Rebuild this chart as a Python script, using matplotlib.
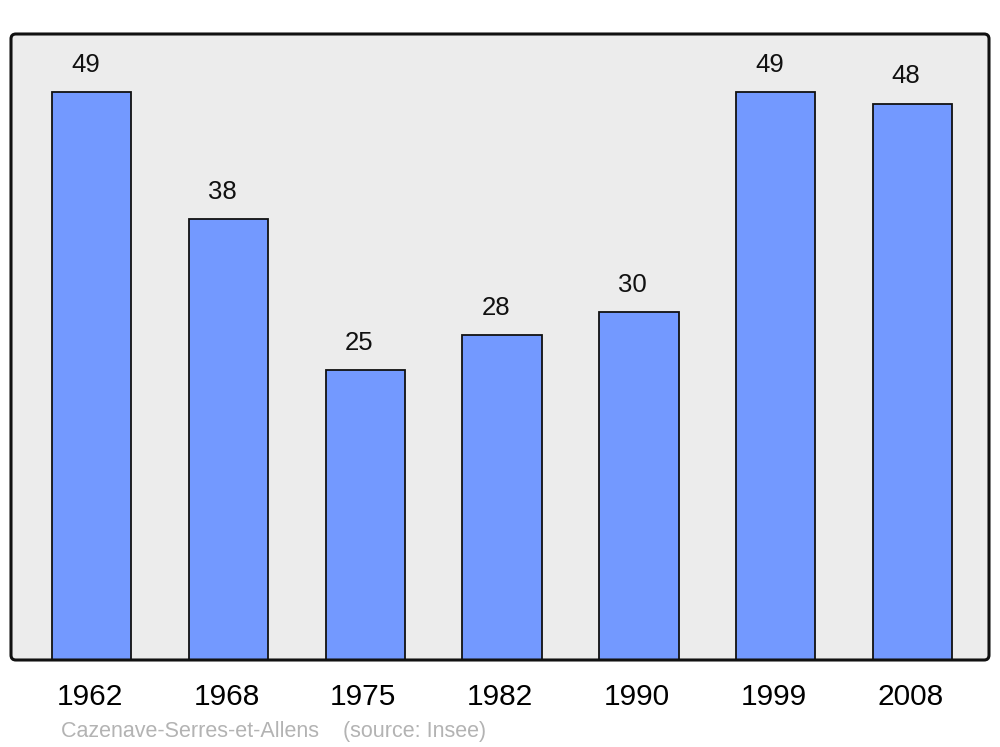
import matplotlib
matplotlib.use("Agg")
import matplotlib.pyplot as plt
import matplotlib.transforms as mtransforms
from matplotlib.patches import FancyBboxPatch

years = ["1962", "1968", "1975", "1982", "1990", "1999", "2008"]
population = [49, 38, 25, 28, 30, 49, 48]
footer = "Cazenave-Serres-et-Allens    (source: Insee)"

plt.rcParams["font.family"] = ["Liberation Sans", "DejaVu Sans"]

fig = plt.figure(figsize=(10, 7.47), dpi=100)
ax = fig.add_axes([0.011, 87 / 747, 0.978, 626 / 747])
ax.set_facecolor("none")
for s in ax.spines.values():
    s.set_visible(False)

# rounded panel: background below, outline on top
aspect = 978 / 626
bg = FancyBboxPatch((0, 0), 1, 1, boxstyle="round,pad=0,rounding_size=0.005",
                    mutation_aspect=aspect, transform=ax.transAxes,
                    facecolor="#ececec", edgecolor="none", zorder=0, clip_on=False)
ax.add_patch(bg)
edge = FancyBboxPatch((0, 0), 1, 1, boxstyle="round,pad=0,rounding_size=0.005",
                      mutation_aspect=aspect, transform=ax.transAxes,
                      facecolor="none", edgecolor="#111111", linewidth=2.2,
                      zorder=5, clip_on=False)
ax.add_patch(edge)

x = range(len(years))
ax.bar(x, population, width=0.58, color="#7399ff", edgecolor="#111111",
       linewidth=1.3, zorder=2)

for xi, v in zip(x, population):
    ax.annotate(str(v), (xi, v), xytext=(-4.5, 19.5), textcoords="offset points",
                ha="center", va="center", fontsize=18.5, color="#111111")

ax.set_xlim(-0.59, 6.56)
ax.set_ylim(0, 54)
ax.set_yticks([])
ax.set_xticks(list(x))
ax.set_xticklabels(years, fontsize=21.5)
ax.tick_params(axis="x", length=0, pad=16.5)
# year labels sit a touch left of the bar centres
shift = mtransforms.ScaledTranslation(-1.5 / 72, 0, fig.dpi_scale_trans)
for lbl in ax.get_xticklabels():
    lbl.set_transform(lbl.get_transform() + shift)

fig.text(0.061, 1 - 732 / 747, footer, fontsize=15.5, color="#b3b3b3",
         ha="left", va="center")

fig.savefig("out.png", dpi=100)
